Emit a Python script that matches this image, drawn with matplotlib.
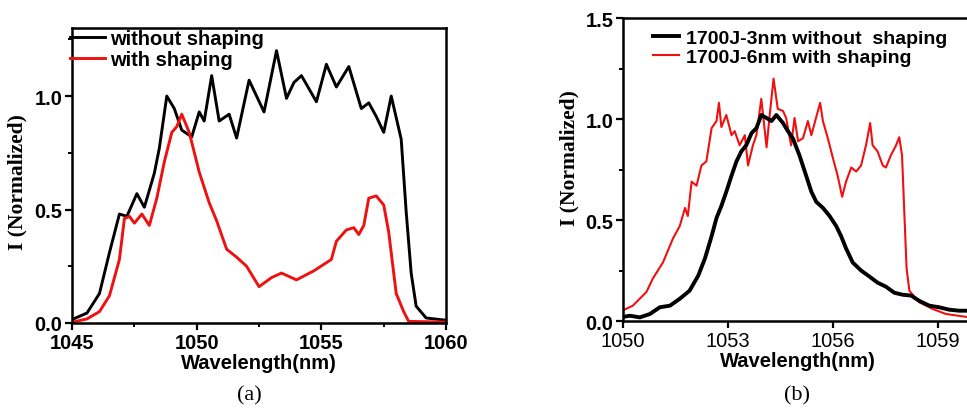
import numpy as np
import matplotlib
matplotlib.use('Agg')
import matplotlib.pyplot as plt
from matplotlib.ticker import MultipleLocator

# ---- panel (a) data: wavelength (nm), normalized intensity ----
wl_a_without = [1045.0, 1045.6, 1046.1, 1046.5, 1046.9, 1047.2, 1047.4, 1047.6, 1047.9,
                1048.3, 1048.5, 1048.8, 1049.1, 1049.4, 1049.8, 1050.1, 1050.3, 1050.6,
                1050.9, 1051.3, 1051.6, 1052.1, 1052.7, 1053.2, 1053.6, 1053.9, 1054.2,
                1054.8, 1055.2, 1055.6, 1056.1, 1056.6, 1056.9, 1057.2, 1057.5, 1057.8,
                1058.2, 1058.4, 1058.6, 1058.8, 1059.2, 1060.0]
i_a_without = [0.015, 0.044, 0.13, 0.31, 0.48, 0.47, 0.52, 0.57, 0.51,
               0.66, 0.77, 1.0, 0.945, 0.85, 0.82, 0.93, 0.89, 1.09,
               0.89, 0.92, 0.815, 1.07, 0.93, 1.20, 0.99, 1.06, 1.09,
               0.975, 1.14, 1.04, 1.13, 0.945, 0.97, 0.91, 0.84, 1.0,
               0.81, 0.49, 0.22, 0.074, 0.022, 0.012]

wl_a_with = [1045.0, 1045.6, 1046.1, 1046.5, 1046.9, 1047.1, 1047.3, 1047.5, 1047.8,
             1048.1, 1048.4, 1048.7, 1049.0, 1049.2, 1049.4, 1049.7, 1050.1, 1050.5,
             1050.8, 1051.2, 1051.6, 1052.0, 1052.5, 1053.0, 1053.4, 1054.0, 1054.7,
             1055.4, 1055.6, 1056.0, 1056.3, 1056.5, 1056.7, 1056.9, 1057.2, 1057.5,
             1057.7, 1058.0, 1058.3, 1058.5, 1060.0]
i_a_with = [0.003, 0.018, 0.05, 0.12, 0.28, 0.46, 0.47, 0.44, 0.48,
            0.43, 0.55, 0.71, 0.84, 0.865, 0.92, 0.84, 0.665, 0.53,
            0.45, 0.325, 0.29, 0.25, 0.16, 0.20, 0.22, 0.19, 0.23,
            0.28, 0.36, 0.41, 0.42, 0.39, 0.43, 0.55, 0.56, 0.52,
            0.40, 0.13, 0.05, 0.007, 0.004]

# ---- panel (b) data ----
wl_b_3nm = [1049.9, 1050.2, 1050.48, 1050.77, 1051.05, 1051.34, 1051.62, 1051.9, 1052.15,
            1052.34, 1052.53, 1052.67, 1052.81, 1052.95, 1053.1, 1053.24, 1053.38, 1053.52,
            1053.67, 1053.81, 1053.95, 1054.1, 1054.24, 1054.38, 1054.57, 1054.71, 1054.85,
            1055.04, 1055.23, 1055.38, 1055.52, 1055.71, 1055.9, 1056.09, 1056.23, 1056.37,
            1056.56, 1056.8, 1057.04, 1057.27, 1057.51, 1057.75, 1057.99, 1058.23, 1058.46,
            1058.75, 1059.03, 1059.32, 1059.6, 1059.9]
i_b_3nm = [0.018, 0.026, 0.018, 0.035, 0.068, 0.076, 0.11, 0.15, 0.225,
           0.31, 0.42, 0.51, 0.57, 0.64, 0.72, 0.79, 0.84, 0.87,
           0.93, 0.955, 1.02, 1.005, 0.99, 1.02, 0.98, 0.94, 0.905,
           0.82, 0.72, 0.64, 0.59, 0.56, 0.52, 0.47, 0.42, 0.36,
           0.29, 0.25, 0.22, 0.19, 0.17, 0.14, 0.13, 0.126, 0.10,
           0.076, 0.068, 0.056, 0.051, 0.051]

wl_b_6nm = [1049.9, 1050.28, 1050.67, 1050.85, 1051.14, 1051.43, 1051.62, 1051.77, 1051.85,
            1051.96, 1052.1, 1052.24, 1052.38, 1052.53, 1052.67, 1052.74, 1052.81, 1052.95,
            1053.1, 1053.19, 1053.33, 1053.48, 1053.57, 1053.71, 1053.81, 1053.95, 1054.1,
            1054.19, 1054.3, 1054.42, 1054.57, 1054.66, 1054.8, 1054.9, 1055.0, 1055.14,
            1055.28, 1055.38, 1055.52, 1055.63, 1055.71, 1055.85, 1055.99, 1056.13, 1056.26,
            1056.37, 1056.52, 1056.66, 1056.8, 1056.94, 1057.06, 1057.13, 1057.27, 1057.42,
            1057.51, 1057.65, 1057.8, 1057.89, 1057.97, 1058.03, 1058.1, 1058.18, 1058.46,
            1058.84, 1059.22, 1059.9]
i_b_6nm = [0.045, 0.076, 0.144, 0.21, 0.29, 0.41, 0.47, 0.56, 0.52,
           0.69, 0.67, 0.77, 0.79, 0.955, 0.99, 1.08, 0.96, 1.02,
           0.92, 0.94, 0.87, 0.92, 0.77, 0.87, 0.92, 1.10, 0.86,
           1.02, 1.20, 1.05, 1.04, 1.005, 0.87, 1.005, 0.89, 0.905,
           0.99, 0.92, 1.01, 1.08, 0.99, 0.905, 0.81, 0.72, 0.615,
           0.69, 0.76, 0.74, 0.77, 0.87, 0.98, 0.87, 0.84, 0.77,
           0.76, 0.82, 0.87, 0.91, 0.82, 0.56, 0.26, 0.15, 0.093,
           0.06, 0.035, 0.018]

labels_a = ['without shaping', 'with shaping']
labels_b = ['1700J-3nm without  shaping', '1700J-6nm with shaping']

sans = 'Liberation Sans'
serif = 'Liberation Serif'
plt.rcParams['font.family'] = sans
plt.rcParams['axes.linewidth'] = 1.8
plt.rcParams['lines.solid_joinstyle'] = 'round'

fig = plt.figure(figsize=(9.67, 4.10), dpi=100)
ax1 = fig.add_axes([0.0745, 0.2098, 0.3868, 0.7195])
ax2 = fig.add_axes([0.6443, 0.2146, 0.362, 0.739])

# panel (a)
ax1.plot(wl_a_without, i_a_without, color='black', lw=2.1, label=labels_a[0])
ax1.plot(wl_a_with, i_a_with, color='#ee1111', lw=2.1, label=labels_a[1])
ax1.set_xlim(1045, 1060)
ax1.set_ylim(0, 1.3)
ax1.xaxis.set_major_locator(MultipleLocator(5))
ax1.xaxis.set_minor_locator(MultipleLocator(2.5))
ax1.yaxis.set_major_locator(MultipleLocator(0.5))
ax1.yaxis.set_minor_locator(MultipleLocator(0.25))
ax1.tick_params(which='major', direction='out', length=5, width=1.6, labelsize=14.5, pad=2)
ax1.tick_params(which='minor', direction='out', length=3, width=1.4)
for t in ax1.get_xticklabels() + ax1.get_yticklabels():
    t.set_fontweight('bold')
ax1.set_xlabel('Wavelength(nm)', fontsize=14.5, fontweight='bold', labelpad=1)
ax1.set_ylabel('I (Normalized)', fontsize=15.5, fontweight='bold', family=serif)
ax1.yaxis.set_label_coords(-0.12, 0.48)
ax1.legend(loc='upper left', bbox_to_anchor=(-0.006, 0.995), frameon=False,
           prop={'family': sans, 'weight': 'bold', 'size': 14.5},
           handlelength=1.75, handletextpad=0.25, labelspacing=0.08,
           borderpad=0, borderaxespad=0)
fig.text(0.258, 0.035, '(a)', family=serif, fontsize=16, ha='center', va='center')

# panel (b)
ax2.plot(wl_b_6nm, i_b_6nm, color='#ee1111', lw=1.5, label=labels_b[1], zorder=2)
ax2.plot(wl_b_3nm, i_b_3nm, color='black', lw=2.8, label=labels_b[0], zorder=3)
ax2.set_xlim(1050, 1060)
ax2.set_ylim(0, 1.5)
ax2.xaxis.set_major_locator(MultipleLocator(3))
ax2.yaxis.set_major_locator(MultipleLocator(0.5))
ax2.yaxis.set_minor_locator(MultipleLocator(0.25))
ax2.tick_params(which='major', direction='out', length=5, width=1.6, labelsize=14.5, pad=2)
ax2.tick_params(which='minor', direction='out', length=3, width=1.4)
for t in ax2.get_yticklabels():
    t.set_fontweight('bold')
ax2.set_xlabel('Wavelength(nm)', fontsize=14.5, fontweight='bold', labelpad=1)
ax2.set_ylabel('I (Normalized)', fontsize=15.5, fontweight='bold', family=serif)
ax2.yaxis.set_label_coords(-0.125, 0.54)
handles, labels = ax2.get_legend_handles_labels()
ax2.legend(handles[::-1], labels[::-1], loc='upper left', bbox_to_anchor=(0.086, 0.963),
           frameon=False, prop={'family': sans, 'weight': 'bold', 'size': 14},
           handlelength=1.35, handletextpad=0.35, labelspacing=0.08,
           borderpad=0, borderaxespad=0)
fig.text(0.824, 0.035, '(b)', family=serif, fontsize=16, ha='center', va='center')

fig.savefig('out.png', dpi=100)
